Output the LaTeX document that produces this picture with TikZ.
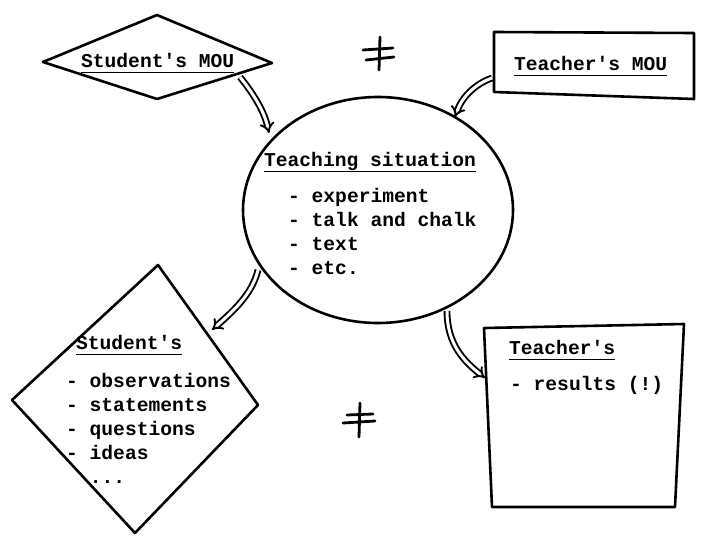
\documentclass[tikz,border=0pt]{standalone}
\usepackage{fontspec}
\setmonofont{Liberation Mono}
\usetikzlibrary{arrows.meta,shapes.geometric}
\newcommand\ulx[1]{\underline{#1\vphantom{g}}}
\begin{document}
\begin{tikzpicture}[x=1pt,y=-1pt,
  shapeline/.style={line width=2.6pt, line join=round},
  txt/.style={font=\ttfamily\bfseries\fontsize{19.6}{24}\selectfont, inner sep=0pt, anchor=base west},
  dbl/.style={double, double distance=3pt, line width=1.9pt, -{Implies[scale=1.4]}},
  neq/.style={line width=2.8pt, line cap=round}]
\useasboundingbox (0,0) rectangle (704,536);

% Student's MOU (diamond)
\draw[shapeline] (43,62) -- (157,15) -- (272,63) -- (157,99) -- cycle;
\node[txt] (smou) at (81,67) {\ulx{Student's MOU}};

% Teacher's MOU (box)
\draw[shapeline] (494,32) -- (694,33) -- (694,99) -- (494,92) -- cycle;
\node[txt] (tmou) at (514,70) {\ulx{Teacher's MOU}};

% Teaching situation (circle)
\node[ellipse, draw, shapeline, minimum width=270pt, minimum height=226pt, inner sep=0pt] (ts) at (378,210) {};
\node[txt] (tstitle) at (264,166) {\ulx{Teaching situation}};
\foreach \t [count=\i] in {experiment, talk and chalk, text, etc.}
  \node[txt] (ts\i) at (288,{202+24*(\i-1)}) {- \t};

% Student's (diamond)
\draw[shapeline] (158,265) -- (258,405) -- (135,533) -- (12,400) -- cycle;
\node[txt] (stitle) at (76,349) {\ulx{Student's}};
\foreach \t [count=\i] in {observations, statements, questions, ideas}
  \node[txt] (st\i) at (66,{387+24*(\i-1)}) {- \t};
\node[txt] (st5) at (89.6,483) {...};

% Teacher's (box)
\draw[shapeline] (484,328) -- (684,324) -- (675,507) -- (492,507) -- cycle;
\node[txt] (ttitle) at (509,354) {\ulx{Teacher's}};
\node[txt] (tres) at (510,390) {- results (!)};

% connectors
\coordinate (a1s) at (240,77);  \coordinate (a1e) at (269,133);
\coordinate (a2s) at (492,78);  \coordinate (a2e) at (455,117);
\coordinate (a3s) at (258,270); \coordinate (a3e) at (212,330);
\coordinate (a4s) at (447,311); \coordinate (a4e) at (485,378);
\draw[dbl] (a1s) .. controls (252,92) and (264,110) .. (a1e);
\draw[dbl] (a2s) .. controls (475,84) and (462,97) .. (a2e);
\draw[dbl] (a3s) .. controls (252,295) and (232,312) .. (a3e);
\draw[dbl] (a4s) .. controls (447,345) and (465,362) .. (a4e);

% not-equal signs
\draw[neq] (363,50) -- (393,48) (366,60) -- (394,57) (380,37) -- (379,70);
\draw[neq] (347,415) -- (373,414) (343,423) -- (375,421) (360,403) -- (359,437);
\end{tikzpicture}
\end{document}
